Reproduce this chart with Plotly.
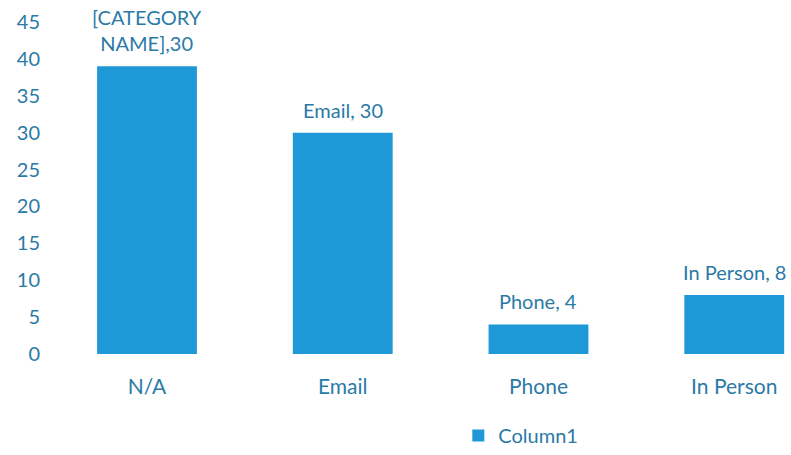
import plotly.graph_objects as go

# Contact method counts
categories = ["N/A", "Email", "Phone", "In Person"]
values = [39, 30, 4, 8]
label_texts = ["[CATEGORY<br>NAME],30", "Email, 30", "Phone, 4", "In Person, 8"]
y_ticks = [0, 5, 10, 15, 20, 25, 30, 35, 40, 45]
series_name = "Column1"

bar_color = "#1f98d8"
text_color = "#2b7aa6"
font_family = "Lato, 'Open Sans', sans-serif"

fig = go.Figure()
fig.add_trace(go.Bar(
    x=categories,
    y=values,
    name=series_name,
    marker=dict(color=bar_color, line=dict(width=0)),
    width=0.51,
    showlegend=True,
))

# Data labels above each bar
for cat, val, txt in zip(categories, values, label_texts):
    fig.add_annotation(
        x=cat, y=val, text=txt, showarrow=False,
        yanchor="bottom", yshift=9,
        font=dict(family=font_family, size=20, color=text_color),
    )

fig.update_layout(
    width=791, height=455,
    margin=dict(l=55, r=0, t=22, b=100),
    paper_bgcolor="white", plot_bgcolor="white",
    font=dict(family=font_family, size=20, color=text_color),
    bargap=0.49,
    legend=dict(
        orientation="h", x=0.548, xanchor="left", y=-0.245, yanchor="middle",
        font=dict(family=font_family, size=20, color=text_color),
        itemwidth=30,
    ),
)
fig.update_xaxes(
    range=[-0.47, 3.29], showgrid=False, showline=False, zeroline=False,
    ticks="", tickfont=dict(size=21, color=text_color), ticklabelstandoff=18,
)
fig.update_yaxes(
    range=[0, 45], tickvals=y_ticks, showgrid=False, showline=False,
    zeroline=False, ticks="", tickfont=dict(size=20, color=text_color),
    ticklabelstandoff=14,
)

fig.write_html("out.html")
